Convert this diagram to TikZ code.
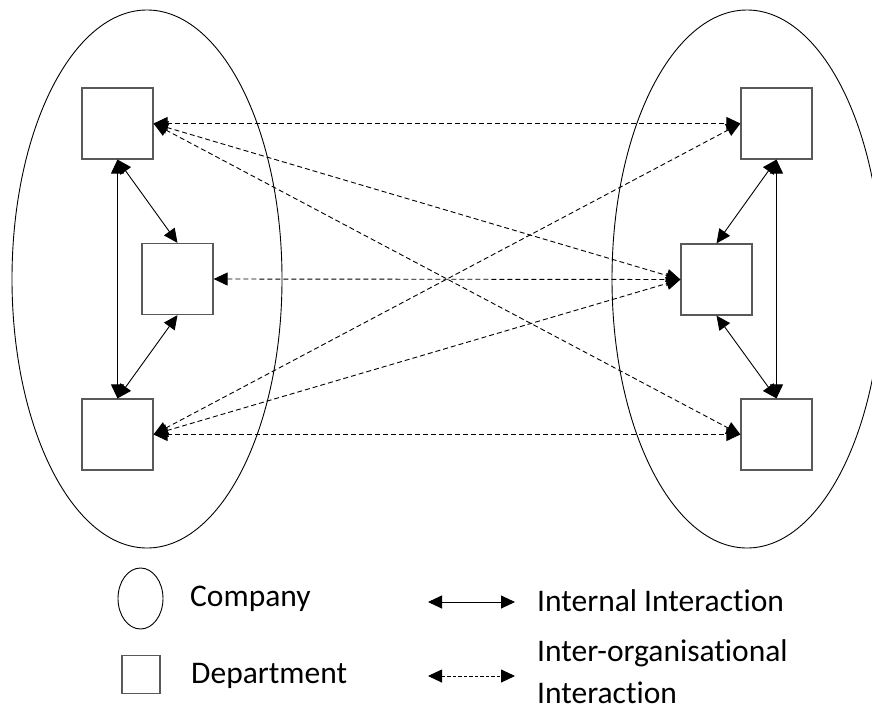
\documentclass[tikz,border=0pt]{standalone}
\usepackage{fontspec}
\setmainfont{Carlito}[Ligatures={NoCommon}]
\usetikzlibrary{arrows.meta,shapes.geometric}
\begin{document}
\begin{tikzpicture}[x=1pt,y=-1pt,
  dept/.style={draw=black!65,line width=1.2pt,minimum size=71pt,inner sep=0pt,fill=white},
  company/.style={draw=black,line width=0.9pt,ellipse,inner sep=0pt},
  internal/.style={line width=0.9pt,{Triangle[length=14pt,width=13pt]}-{Triangle[length=14pt,width=13pt]}},
  interorg/.style={line width=0.9pt,dash pattern=on 5pt off 3pt,{Triangle[length=14pt,width=13pt]}-{Triangle[length=14pt,width=13pt]}},
  legtext/.style={anchor=west,inner sep=0pt,font=\fontsize{31.5}{42}\selectfont}
]
\useasboundingbox (0,0) rectangle (872,709);
\clip (0,0) rectangle (872,709);
% companies
\node[company,minimum width=270pt,minimum height=538pt] (cL) at (147,279) {};
\node[company,minimum width=270pt,minimum height=538pt] (cR) at (747,279) {};
% departments
\node[dept] (TL) at (117.5,123.5) {};
\node[dept] (ML) at (177.5,279) {};
\node[dept] (BL) at (117.5,434.5) {};
\node[dept] (TR) at (776.5,123.5) {};
\node[dept] (MR) at (716.5,279.5) {};
\node[dept] (BR) at (776.5,434.5) {};
% internal interactions
\draw[internal] (TL.south) -- (BL.north);
\draw[internal] (TL.south) -- (ML.north);
\draw[internal] (ML.south) -- (BL.north);
\draw[internal] (TR.south) -- (BR.north);
\draw[internal] (TR.south) -- (MR.north);
\draw[internal] (MR.south) -- (BR.north);
% inter-organisational interactions
\draw[interorg] (TL.east) -- (TR.west);
\draw[interorg] (TL.east) -- (MR.west);
\draw[interorg] (TL.east) -- (BR.west);
\draw[interorg] (ML.east) -- (MR.west);
\draw[interorg] (BL.east) -- (TR.west);
\draw[interorg] (BL.east) -- (MR.west);
\draw[interorg] (BL.east) -- (BR.west);
% legend
\node[company,minimum width=45pt,minimum height=61pt] (legC) at (140.5,598.5) {};
\node[dept,minimum size=38pt] (legD) at (141,674.5) {};
\node[legtext] (tC) at (190,599) {Company};
\node[legtext] (tD) at (191,676) {Department};
\coordinate (iA) at (428,602);
\coordinate (iB) at (515,602);
\coordinate (oA) at (428,676);
\coordinate (oB) at (515,676);
\draw[internal] (iA) -- (iB);
\draw[interorg,dash pattern=on 3.5pt off 2pt] (oA) -- (oB);
\node[legtext] (tI) at (537,601) {Internal Interaction};
\node[legtext,align=left] (tO) at (537,672) {Inter-organisational\\Interaction};
\end{tikzpicture}
\end{document}
